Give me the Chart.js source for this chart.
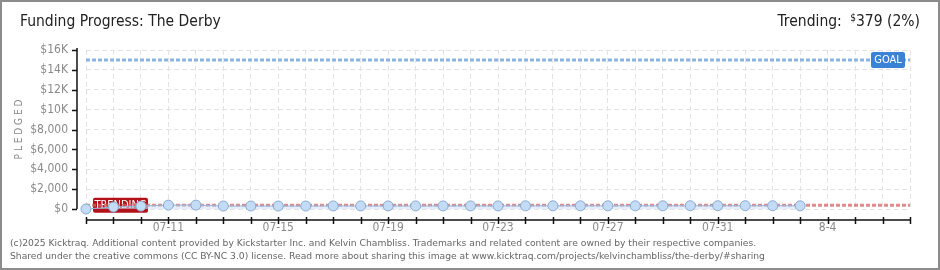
<!DOCTYPE html>
<html>
<head>
<meta charset="utf-8">
<script src="https://cdn.jsdelivr.net/npm/chart.js@4"></script>
<style>
  html, body { margin: 0; padding: 0; background: #fff; }
  #wrap { position: relative; width: 940px; height: 270px; overflow: hidden; }
  #chart { position: absolute; left: 0; top: 0; }
  #frame { position: absolute; left: 0; top: 0; width: 940px; height: 270px; box-sizing: border-box;
           border: 2px solid #8c8c8c; pointer-events: none; }
  .head { position: absolute; top: 12px; font-family: "Liberation Sans Narrow", "DejaVu Sans Condensed", sans-serif;
          font-size: 15.5px; color: #222; white-space: nowrap; }
  #title { left: 20px; }
  #trend { right: 20px; }
  #trend sup { font-size: 10px; vertical-align: 5px; margin-left: 4px; }
  .foot { position: absolute; left: 10px; font-family: "DejaVu Sans", sans-serif;
          font-size: 9.2px; color: #666; white-space: nowrap; }
</style>
</head>
<body>
<div id="wrap">
  <canvas id="chart" width="940" height="270"></canvas>
  <div id="title" class="head">Funding Progress: The Derby</div>
  <div id="trend" class="head">Trending: <sup>$</sup>379 (2%)</div>
  <div class="foot" style="top:237px">(c)2025 Kicktraq. Additional content provided by Kickstarter Inc. and Kelvin Chambliss. Trademarks and related content are owned by their respective companies.</div>
  <div class="foot" style="top:250px">Shared under the creative commons (CC BY-NC 3.0) license. Read more about sharing this image at www.kicktraq.com/projects/kelvinchambliss/the-derby/#sharing</div>
  <div id="frame"></div>
</div>
<script>
// chart data
const dayLabels = ['07-08', '07-09', '07-10', '07-11', '07-12', '07-13', '07-14', '07-15', '07-16', '07-17',
    '07-18', '07-19', '07-20', '07-21', '07-22', '07-23', '07-24', '07-25', '07-26', '07-27',
    '07-28', '07-29', '07-30', '07-31', '8-1', '8-2', '8-3', '8-4', '8-5', '8-6', '8-7'];
const tickLabels = ['07-11', '07-15', '07-19', '07-23', '07-27', '07-31', '8-4'];
const pledged = [0, 200, 290, 390, 390, 300, 300, 300, 300, 310, 310, 310, 310, 310, 310, 310,
    320, 320, 320, 320, 320, 320, 330, 330, 330, 330, 320];
const trendValue = 379;
const goalValue = 15000;
const yMax = 16000;

const axisFont = '"Liberation Sans Narrow", "DejaVu Sans Condensed", sans-serif';

function money(v) {
    if (v >= 10000) return '$' + (v / 1000) + 'K';
    return '$' + v.toLocaleString('en-US');
}

function roundRect(ctx, x, y, w, h, r) {
    ctx.beginPath();
    ctx.moveTo(x + r, y);
    ctx.lineTo(x + w - r, y);
    ctx.quadraticCurveTo(x + w, y, x + w, y + r);
    ctx.lineTo(x + w, y + h - r);
    ctx.quadraticCurveTo(x + w, y + h, x + w - r, y + h);
    ctx.lineTo(x + r, y + h);
    ctx.quadraticCurveTo(x, y + h, x, y + h - r);
    ctx.lineTo(x, y + r);
    ctx.quadraticCurveTo(x, y, x + r, y);
    ctx.closePath();
}

// axis lines, tick marks and the two tags
const kickAxes = {
    id: 'kickAxes',
    beforeDatasetsDraw(chart) {
        const ctx = chart.ctx;
        const xs = chart.scales.x, ys = chart.scales.y;
        const area = chart.chartArea;
        const axisX = area.left - 9;
        const axisY = area.bottom + 11;
        ctx.save();
        ctx.strokeStyle = '#111';
        ctx.lineWidth = 1.5;
        ctx.beginPath();
        ctx.moveTo(axisX, area.top - 2);
        ctx.lineTo(axisX, area.bottom);
        ctx.moveTo(area.left, axisY);
        ctx.lineTo(area.right, axisY);
        ctx.stroke();

        ys.ticks.forEach(t => {
            const py = Math.round(ys.getPixelForValue(t.value)) + 0.5;
            ctx.strokeStyle = t.value % 2000 === 0 ? '#111' : '#e01010';
            ctx.lineWidth = 1.5;
            ctx.beginPath();
            ctx.moveTo(axisX - 5, py);
            ctx.lineTo(axisX, py);
            ctx.stroke();
        });
        ctx.strokeStyle = '#111';
        dayLabels.forEach((d, i) => {
            const px = Math.round(xs.getPixelForValue(i)) + 0.5;
            ctx.beginPath();
            ctx.moveTo(px, axisY - 3);
            ctx.lineTo(px, axisY + 4);
            ctx.stroke();
        });

        // TRENDING tag
        const tx = xs.getPixelForValue(0) + 7;
        const ty = ys.getPixelForValue(trendValue);
        ctx.fillStyle = '#b3121b';
        roundRect(ctx, tx, ty - 7.5, 55, 15, 2);
        ctx.fill();
        ctx.fillStyle = '#fff';
        ctx.font = '11px ' + axisFont;
        ctx.textBaseline = 'middle';
        ctx.textAlign = 'center';
        ctx.fillText('TRENDING', tx + 27.5, ty);
        ctx.restore();
    },
    afterDatasetsDraw(chart) {
        const ctx = chart.ctx;
        const ys = chart.scales.y;
        const area = chart.chartArea;
        const gy = ys.getPixelForValue(goalValue);
        ctx.save();
        ctx.fillStyle = '#3a82d6';
        roundRect(ctx, area.right - 39, gy - 8, 34, 16, 2);
        ctx.fill();
        ctx.fillStyle = '#fff';
        ctx.font = '11px ' + axisFont;
        ctx.textBaseline = 'middle';
        ctx.textAlign = 'center';
        ctx.fillText('GOAL', area.right - 22, gy + 0.5);
        ctx.restore();
    }
};

new Chart(document.getElementById('chart'), {
    type: 'line',
    data: {
        labels: dayLabels,
        datasets: [{
            label: 'Pledged',
            data: pledged,
            order: 0,
            borderColor: '#93b5de',
            borderWidth: 1,
            backgroundColor: 'rgba(205,225,247,0.55)',
            fill: 'origin',
            pointRadius: 5,
            pointBackgroundColor: '#c4dbf5',
            pointBorderColor: '#88a9d3',
            pointBorderWidth: 1,
            tension: 0,
            clip: false
        }, {
            label: 'Trending',
            data: dayLabels.map(() => trendValue),
            order: 1,
            borderColor: 'rgba(210,100,100,0.75)',
            borderWidth: 3,
            borderDash: [4, 2],
            pointRadius: 0,
            fill: false
        }, {
            label: 'Goal',
            data: dayLabels.map(() => goalValue),
            order: 2,
            borderColor: '#8cb4e0',
            borderWidth: 3,
            borderDash: [4, 2],
            pointRadius: 0,
            fill: false
        }]
    },
    options: {
        responsive: false,
        animation: false,
        layout: { padding: { left: 0, right: 30, top: 50, bottom: 0 } },
        plugins: { legend: { display: false }, tooltip: { enabled: false } },
        scales: {
            x: {
                offset: false,
                afterFit(scale) { scale.height = 61; },
                grid: { color: '#e3e3e3', lineWidth: 1, drawTicks: false },
                border: { display: false, dash: [5, 3] },
                ticks: {
                    autoSkip: false, maxRotation: 0, padding: 12,
                    color: '#8a8a8a', font: { family: axisFont, size: 12 },
                    callback: (v, i) => tickLabels.includes(dayLabels[i]) ? dayLabels[i] : ''
                }
            },
            y: {
                min: 0, max: yMax,
                afterFit(scale) { scale.width = 86; },
                grid: {
                    color: c => (c.tick && c.tick.value % 2000 === 0) ? '#e3e3e3' : 'rgba(0,0,0,0)',
                    lineWidth: 1, drawTicks: false
                },
                border: { display: false, dash: [5, 3] },
                title: {
                    display: true, text: 'P L E D G E D', color: '#8a8a8a',
                    font: { family: axisFont, size: 10 }, padding: { top: 13, bottom: 0 }
                },
                ticks: {
                    stepSize: 1000, padding: 18,
                    color: '#8a8a8a', font: { family: axisFont, size: 12 },
                    callback: v => v % 2000 === 0 ? money(v) : ''
                }
            }
        }
    },
    plugins: [kickAxes]
});
</script>
</body>
</html>
